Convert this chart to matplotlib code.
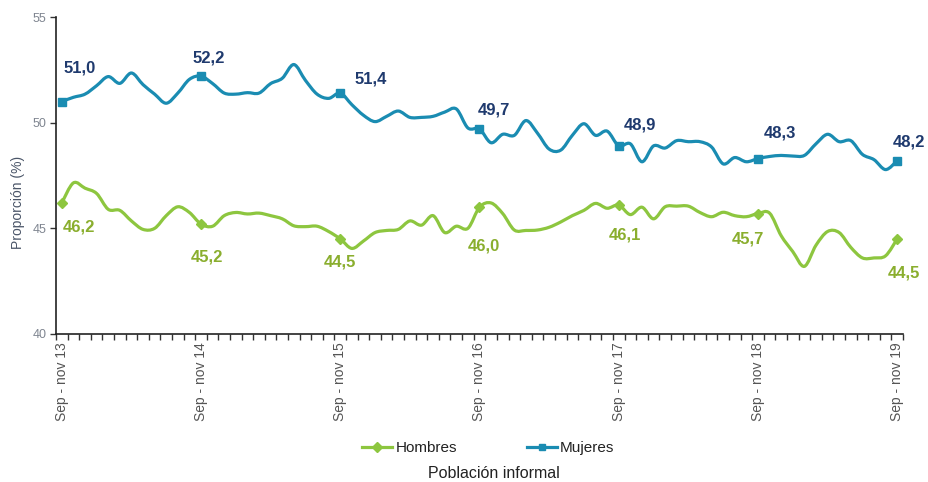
import numpy as np
import matplotlib
matplotlib.use('Agg')
import matplotlib.pyplot as plt
from matplotlib.path import Path
from matplotlib.patches import PathPatch
from matplotlib.lines import Line2D

plt.rcParams['font.family'] = ['Liberation Sans', 'DejaVu Sans']

# ---------------- data ----------------
year_labels = ["Sep - nov 13", "Sep - nov 14", "Sep - nov 15", "Sep - nov 16",
               "Sep - nov 17", "Sep - nov 18", "Sep - nov 19"]
year_idx = [0, 12, 24, 36, 48, 60, 72]

mujeres = [51.0, 51.2, 51.35, 51.75, 52.18, 51.86, 52.35, 51.8, 51.35, 50.92,
           51.4, 52.05, 52.2, 51.85, 51.4, 51.35, 51.42, 51.4, 51.85, 52.1,
           52.75, 52.0, 51.35, 51.15, 51.4, 50.85, 50.35, 50.05, 50.3, 50.55,
           50.25, 50.25, 50.3, 50.5, 50.65, 49.75, 49.7, 49.05, 49.45, 49.4,
           50.1, 49.5, 48.75, 48.7, 49.4, 49.95, 49.4, 49.6, 48.9, 49.0,
           48.15, 48.9, 48.8, 49.15, 49.1, 49.1, 48.85, 48.05, 48.35, 48.15,
           48.3, 48.4, 48.45, 48.42, 48.45, 49.0, 49.45, 49.1, 49.15, 48.5,
           48.25, 47.78, 48.2]

hombres = [46.2, 47.15, 46.9, 46.65, 45.9, 45.85, 45.35, 44.95, 45.0, 45.6,
           46.02, 45.75, 45.2, 45.1, 45.6, 45.75, 45.68, 45.72, 45.6, 45.45,
           45.12, 45.08, 45.1, 44.85, 44.5, 44.05, 44.4, 44.8, 44.9, 44.95,
           45.35, 45.15, 45.6, 44.8, 45.1, 45.0, 46.0, 46.2, 45.7, 44.92,
           44.9, 44.92, 45.05, 45.3, 45.6, 45.85, 46.18, 45.95, 46.1, 45.65,
           46.0, 45.45, 46.02, 46.05, 46.05, 45.75, 45.55, 45.76, 45.6, 45.55,
           45.7, 45.72, 44.65, 43.9, 43.2, 44.2, 44.85, 44.8, 44.1, 43.6,
           43.6, 43.7, 44.5]

months = list(range(len(mujeres)))

blue = '#1A8CB2'
green = '#8DC63F'
blue_lbl = '#1F3A6E'
green_lbl = '#8AAE2E'

# label offsets in pixels (dx, dy) relative to markers
blue_off = [(18, 34), (8, 18), (30, 14), (14, 19), (21, 21), (22, 26), (12, 19)]
green_off = [(17, -24), (6, -33), (0, -23), (4, -39), (6, -30), (-10, -25), (7, -34)]


def smooth_path(x, y):
    x = np.asarray(x, float)
    y = np.asarray(y, float)
    n = len(x)
    verts = [(x[0], y[0])]
    codes = [Path.MOVETO]
    for i in range(n - 1):
        p0 = i - 1 if i > 0 else i
        p3 = i + 2 if i + 2 < n else i + 1
        c1 = (x[i] + (x[i + 1] - x[p0]) / 6, y[i] + (y[i + 1] - y[p0]) / 6)
        c2 = (x[i + 1] - (x[p3] - x[i]) / 6, y[i + 1] - (y[p3] - y[i]) / 6)
        verts += [c1, c2, (x[i + 1], y[i + 1])]
        codes += [Path.CURVE4] * 3
    return Path(verts, codes)


fig = plt.figure(figsize=(9.29, 4.82), dpi=100)
ax = fig.add_axes([56 / 929, 1 - 334 / 482, (903 - 56) / 929, (334 - 17) / 482])

for vals, col in [(mujeres, blue), (hombres, green)]:
    ax.add_patch(PathPatch(smooth_path(months, vals), facecolor='none',
                           edgecolor=col, lw=2.3, capstyle='round',
                           joinstyle='round', transform=ax.transData, zorder=3))

mx = year_idx
ax.plot(mx, [mujeres[i] for i in mx], ls='none', marker='s', ms=5.5,
        color=blue, zorder=4)
ax.plot(mx, [hombres[i] for i in mx], ls='none', marker='D', ms=5.5,
        color=green, zorder=4)

for k, i in enumerate(year_idx):
    ax.annotate(f"{mujeres[i]:.1f}".replace('.', ','), (i, mujeres[i]),
                xytext=blue_off[k], textcoords='offset pixels', ha='center',
                va='center', fontsize=12, fontweight='bold', color=blue_lbl)
    ax.annotate(f"{hombres[i]:.1f}".replace('.', ','), (i, hombres[i]),
                xytext=green_off[k], textcoords='offset pixels', ha='center',
                va='center', fontsize=12, fontweight='bold', color=green_lbl)

ax.set_xlim(-0.5, len(months) - 0.5)
ax.set_ylim(40, 55)
ax.set_yticks([40, 45, 50, 55])
ax.tick_params(axis='y', direction='out', length=4, width=1, colors='#333333',
               labelcolor='#7f8590', labelsize=9, pad=3)

ax.set_xticks(year_idx)
ax.set_xticklabels(year_labels, rotation=90, fontsize=10, color='#555555')
ax.set_xticks(np.arange(-0.5, len(months), 1), minor=True)
ax.tick_params(axis='x', which='major', length=0, pad=6)
ax.tick_params(axis='x', which='minor', direction='out', length=4, width=1,
               color='#333333')

for s in ['top', 'right']:
    ax.spines[s].set_visible(False)
for s in ['left', 'bottom']:
    ax.spines[s].set_color('#222222')
    ax.spines[s].set_linewidth(1.2)

fig.text(18 / 929, 1 - 202 / 482, 'Proporción (%)', rotation=90, ha='center',
         va='center', fontsize=10, color='#4a5568')

handles = [Line2D([], [], color=green, lw=2.3, marker='D', ms=5),
           Line2D([], [], color=blue, lw=2.3, marker='s', ms=5)]
fig.legend(handles, ['Hombres', 'Mujeres'], loc='center',
           bbox_to_anchor=(488.5 / 929, 1 - 448 / 482), ncol=2, frameon=False,
           fontsize=11, handlelength=1.96, handletextpad=0.2,
           columnspacing=4.6, labelcolor='#222222')

fig.text(494 / 929, 1 - 474 / 482, 'Población informal', ha='center',
         va='center', fontsize=11.5, color='#222222')

fig.savefig('out.png', dpi=100)
